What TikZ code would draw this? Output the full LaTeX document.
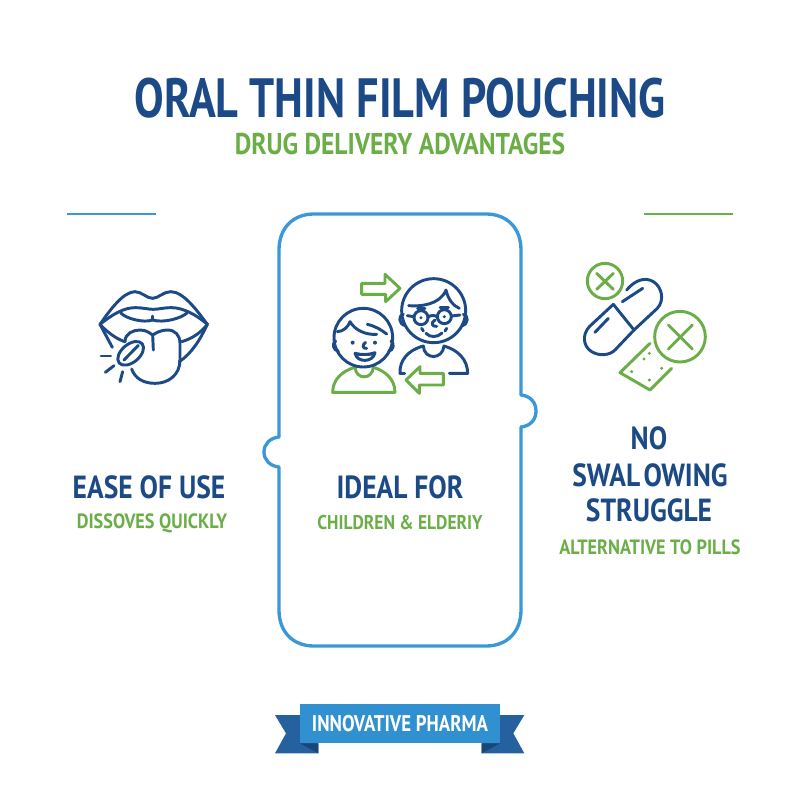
\documentclass[tikz,border=0pt]{standalone}
\usepackage{fontspec}
\setmainfont{PT Sans}
\newfontfamily\titlefam[FakeStretch=0.80]{PT Sans}
\newfontfamily\subtitlefam[FakeStretch=0.85]{PT Sans}
\newfontfamily\headfam[FakeStretch=0.86]{PT Sans}
\newfontfamily\subfam[FakeStretch=0.88]{PT Sans}
\newfontfamily\brandfam[FakeStretch=0.83]{PT Sans}
\definecolor{navy}{HTML}{1C4A86}
\definecolor{leaf}{HTML}{6BAE47}
\definecolor{sky}{HTML}{3A98D8}
\definecolor{ribbonmain}{HTML}{3090D0}
\definecolor{ribbondark}{HTML}{25609F}
\definecolor{ribbonfold}{HTML}{1B4679}
\tikzset{
  titletext/.style={font=\titlefam\bfseries\fontsize{41.5}{44}\selectfont,text=navy,inner sep=0pt,anchor=center},
  subtitletext/.style={font=\subtitlefam\bfseries\fontsize{22.5}{24}\selectfont,text=leaf,inner sep=0pt,anchor=center},
  headtext/.style={font=\headfam\bfseries\fontsize{24}{26}\selectfont,text=navy,inner sep=0pt,anchor=center},
  subtext/.style={font=\subfam\bfseries\fontsize{15.5}{17}\selectfont,text=leaf,inner sep=0pt,anchor=center},
  bluestroke/.style={draw=navy,line width=2.2pt,line cap=round,line join=round},
  greenstroke/.style={draw=leaf,line width=2.2pt,line cap=round,line join=round},
  icon/.style={x=0.25pt,y=-0.25pt}
}
\begin{document}
\begin{tikzpicture}[x=0.75pt,y=-0.75pt]
\useasboundingbox (0,0) rectangle (800,800);
\fill[white] (0,0) rectangle (800,800);
% titles
\node[titletext] (title) at (400,98) {ORAL THIN FILM POUCHING};
\node[subtitletext] (subtitle) at (400,144) {DRUG DELIVERY ADVANTAGES};
% rules
\draw[sky,line width=2pt] (67,214) -- (156,214);
\draw[leaf,line width=2pt] (644,214) -- (733,214);
% card
\draw[sky,line width=2.5pt,line join=round]
  (314,214) -- (486,214) .. controls (507,214) and (521,228) .. (521,250)
  -- (521,395) .. controls (531,396) and (536,403) .. (536,411) .. controls (536,419) and (531,426) .. (521,427)
  -- (521,610) .. controls (521,632) and (507,646) .. (486,646)
  -- (314,646) .. controls (293,646) and (279,632) .. (279,610)
  -- (279,467) .. controls (270,466) and (264,460) .. (264,452) .. controls (264,444) and (270,438) .. (279,437)
  -- (279,250) .. controls (279,228) and (293,214) .. (314,214) -- cycle;
% lips icon
\begin{scope}[shift={(80,270)},icon]
\draw[bluestroke] (60,163) .. controls (90,120) and (130,65) .. (165,65) .. controls (185,65) and (200,85) .. (218,85) .. controls (235,85) and (250,65) .. (272,65) .. controls (310,65) and (350,120) .. (382,163);
\draw[bluestroke] (60,163) .. controls (95,135) and (130,113) .. (165,113) .. controls (190,113) and (205,118) .. (220,118) .. controls (235,118) and (250,113) .. (275,113) .. controls (310,113) and (350,135) .. (382,163);
\draw[bluestroke] (122,128) .. controls (135,145) and (190,160) .. (218,150) .. controls (250,160) and (305,145) .. (322,128);
\draw[bluestroke] (218,138) -- (218,150);
\draw[bluestroke] (60,163) .. controls (80,185) and (110,208) .. (135,215);
\draw[bluestroke] (60,163) -- (97,232);
\draw[bluestroke] (382,163) .. controls (365,185) and (340,205) .. (305,215);
\draw[bluestroke] (382,163) .. controls (360,210) and (335,250) .. (298,275);
\draw[bluestroke] (135,215) .. controls (135,190) and (160,180) .. (180,180) .. controls (200,180) and (210,190) .. (218,195) .. controls (230,187) and (245,180) .. (262,180) .. controls (285,180) and (300,195) .. (300,220) -- (300,270) .. controls (300,315) and (265,340) .. (225,340) .. controls (190,340) and (165,325) .. (155,297);
\draw[bluestroke] (218,195) -- (220,240);
\draw[bluestroke,rotate around={40:(152,250)}] (152,250) ellipse [x radius=45,y radius=27];
\draw[bluestroke] (132,270) -- (175,226);
\draw[bluestroke] (63,258) -- (92,258);
\draw[bluestroke] (76,307) -- (102,287);
\draw[bluestroke] (120,335) -- (128,305);
\end{scope}
% people icon
\begin{scope}[shift={(320,265)},icon]
\draw[greenstroke] (125,55) -- (195,55) -- (195,28) -- (240,70) -- (197,110) -- (197,88) -- (125,88) -- cycle;
\draw[greenstroke] (370,325) -- (300,325) -- (300,305) -- (258,345) -- (298,385) -- (298,360) -- (370,360) -- cycle;
% elder
\draw[bluestroke] (341,137) circle [radius=96];
\draw[bluestroke] (250,148) .. controls (235,150) and (235,178) .. (256,182);
\draw[bluestroke] (430,148) .. controls (446,150) and (446,178) .. (426,182);
\draw[bluestroke] (266,122) .. controls (300,125) and (360,120) .. (378,75) .. controls (385,105) and (400,122) .. (418,130);
\draw[bluestroke] (303,158) circle [radius=21];
\draw[bluestroke] (373,155) circle [radius=21];
\draw[bluestroke] (324,156) .. controls (332,150) and (345,150) .. (352,156);
\draw[bluestroke] (262,152) -- (282,155);
\draw[bluestroke] (394,153) -- (420,150);
\fill[navy] (303,158) circle [radius=5];
\fill[navy] (373,155) circle [radius=5];
\draw[bluestroke] (345,165) .. controls (332,172) and (335,186) .. (350,184);
\draw[bluestroke] (318,205) .. controls (330,218) and (352,218) .. (366,204);
\draw[bluestroke] (305,190) -- (310,198);
\draw[bluestroke] (380,190) -- (375,198);
\draw[bluestroke] (293,130) -- (315,130);
\draw[bluestroke] (360,128) -- (385,128);
\draw[bluestroke] (240,325) .. controls (238,285) and (265,255) .. (310,243) .. controls (312,285) and (368,285) .. (372,243) .. controls (415,255) and (443,285) .. (443,325) -- (388,325);
\draw[bluestroke] (240,325) -- (254,325);
% child
\draw[greenstroke] (38,382) .. controls (38,345) and (65,318) .. (105,307) .. controls (108,345) and (157,345) .. (160,307) .. controls (198,318) and (225,345) .. (225,382) -- cycle;
\draw[bluestroke,fill=white] (130,218) circle [radius=88];
\draw[bluestroke] (47,228) .. controls (35,235) and (40,258) .. (55,258);
\draw[bluestroke] (213,228) .. controls (225,235) and (220,258) .. (206,258);
\draw[bluestroke] (52,200) .. controls (70,200) and (85,185) .. (90,170) .. controls (105,195) and (135,210) .. (170,208);
\draw[bluestroke] (142,178) .. controls (165,183) and (185,195) .. (200,207);
\fill[navy] (98,233) circle [radius=6];
\fill[navy] (165,233) circle [radius=6];
\draw[bluestroke] (137,232) .. controls (125,240) and (128,252) .. (140,250);
\draw[bluestroke] (105,265) .. controls (125,270) and (145,270) .. (165,263) .. controls (160,292) and (112,295) .. (105,265) -- cycle;
\fill[navy] (105,265) .. controls (125,270) and (145,270) .. (165,263) .. controls (160,275) and (150,272) .. (135,272) .. controls (120,272) and (112,275) .. (105,265) -- cycle;
\end{scope}
% pill icon
\begin{scope}[shift={(570,255)},icon]
\draw[greenstroke] (105,78) circle [radius=53];
\draw[greenstroke] (80,55) -- (130,103);
\draw[greenstroke] (130,55) -- (80,103);
\draw[bluestroke] (130,148) -- (58,215) .. controls (35,240) and (40,275) .. (65,290) .. controls (90,305) and (120,300) .. (135,285) -- (192,225);
\draw[bluestroke] (130,148) -- (192,225);
\draw[bluestroke] (192,225) -- (262,160) .. controls (285,135) and (275,95) .. (250,80) .. controls (225,65) and (195,75) .. (170,105);
\draw[bluestroke] (75,232) -- (115,190);
\draw[bluestroke] (157,140) -- (218,100);
\draw[greenstroke] (330,245) circle [radius=76];
\draw[greenstroke] (295,210) -- (367,282);
\draw[greenstroke] (367,210) -- (295,282);
\draw[greenstroke] (240,265) -- (150,353) -- (240,405) -- (305,340);
\fill[leaf] (238,295) circle [radius=5];
\fill[leaf] (222,312) circle [radius=5];
\fill[leaf] (185,350) circle [radius=5];
\fill[leaf] (238,375) circle [radius=5];
\fill[leaf] (275,340) circle [radius=5];
\end{scope}
% column texts
\node[headtext] (ease) at (149,487) {EASE OF USE};
\node[subtext] (dissolve) at (152,523) {DISSOVES QUICKLY};
\node[headtext] (ideal) at (400,487) {IDEAL FOR};
\node[subtext,font=\subfam\bfseries\fontsize{14.9}{17}\selectfont] (children) at (400,523) {CHILDREN \& ELDERIY};
\node[headtext] (no) at (649,438) {NO};
\node[headtext] (swal) at (650,475) {SWAL\hspace{2.5pt}OWING};
\node[headtext] (struggle) at (649,510) {STRUGGLE};
\node[subtext] (alt) at (650,547) {ALTERNATIVE TO PILLS};
% ribbon
\begin{scope}[shift={(260,690)},icon]
\fill[ribbondark] (45,75) -- (125,75) -- (175,160) -- (175,190) -- (45,190) -- (78,130) -- cycle;
\fill[ribbondark] (793,75) -- (715,75) -- (665,160) -- (665,190) -- (793,190) -- (760,130) -- cycle;
\fill[ribbonfold] (120,160) -- (175,160) -- (175,190) -- cycle;
\fill[ribbonfold] (720,160) -- (665,160) -- (665,190) -- cycle;
\fill[ribbonmain] (120,42) rectangle (720,160);
\end{scope}
\node[font=\brandfam\bfseries\fontsize{17}{19}\selectfont,text=white,inner sep=0pt] (brand) at (400,724) {INNOVATIVE PHARMA};
\end{tikzpicture}
\end{document}
